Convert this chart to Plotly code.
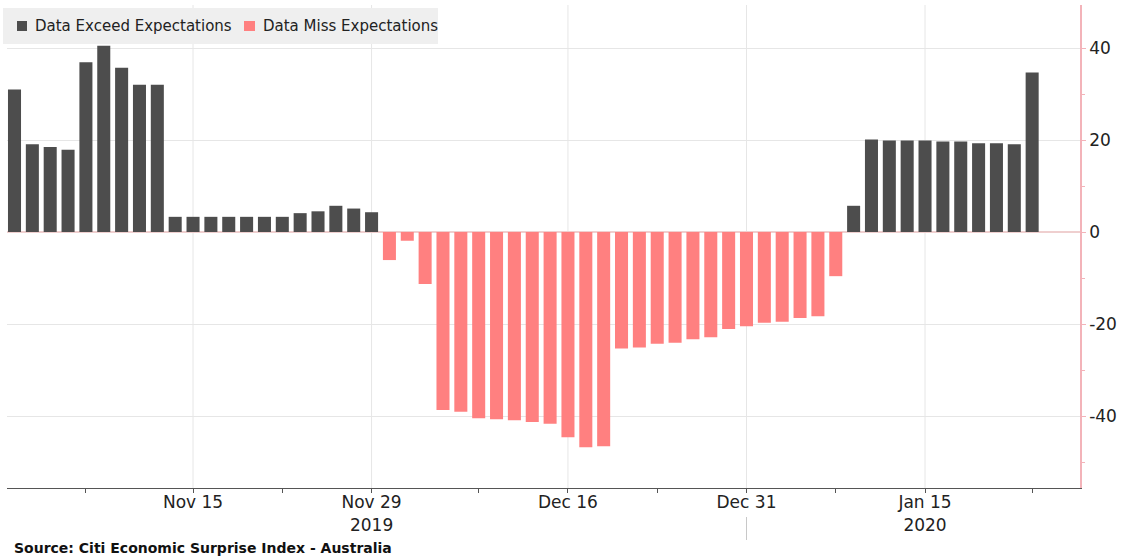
import pandas as pd
import plotly.graph_objects as go

# Citi Economic Surprise Index - Australia, daily (weekdays, Xmas / New Year dropped)
holidays = ["2019-12-25", "2020-01-01"]
dates = [d.strftime("%Y-%m-%d") for d in pd.bdate_range("2019-11-01", "2020-01-23")
         if d.strftime("%Y-%m-%d") not in holidays]

surprise = [
    31.0, 19.1, 18.5, 17.9, 36.9, 40.5, 35.7, 32.0, 32.0,
    3.3, 3.3, 3.3, 3.3, 3.3, 3.3, 3.3, 4.1, 4.5, 5.7, 5.1, 4.3,
    -6.1, -1.9, -11.3, -38.7, -39.1, -40.5, -40.7, -40.9, -41.3, -41.7, -44.6, -46.8, -46.6,
    -25.3, -25.1, -24.3, -24.1, -23.3, -22.9, -21.1, -20.5, -19.7, -19.5, -18.7, -18.3, -9.6,
    5.7, 20.1, 19.9, 19.9, 19.9, 19.7, 19.7, 19.3, 19.3, 19.1, 34.7,
]

series_names = ["Data Exceed Expectations", "Data Miss Expectations"]

# x tick marks: labelled ones carry a gridline, the rest are plain ticks
tick_dates = ["2019-11-07", "2019-11-15", "2019-11-22", "2019-11-29", "2019-12-09", "2019-12-16",
              "2019-12-23", "2019-12-31", "2020-01-08", "2020-01-15", "2020-01-23"]
tick_labels = ["", "Nov 15", "", "Nov 29<br>2019", "", "Dec 16",
               "", "Dec 31", "", "Jan 15<br>2020", ""]

y_ticks = [-40, -20, 0, 20, 40]
y_tick_labels = ["-40", "-20", "0", "20", "40"]
y_minor = [-50, -30, -10, 10, 30]

DARK = "#4d4d4d"
PINK = "#ff8080"
AXIS_PINK = "#f3b3b9"
GRID = "#e6e6e6"

# plot box in pixels (used to place the hand-made legend)
L, R, T, B = 7, 1080, 5, 488
def px_x(p):
    return (p - L) / (R - L)
def px_y(p):
    return (B - p) / (B - T)

exceed = [v if v >= 0 else None for v in surprise]
miss = [v if v < 0 else None for v in surprise]

fig = go.Figure()
fig.add_trace(go.Bar(x=dates, y=exceed, name=series_names[0],
                     marker=dict(color=DARK, line_width=0)))
fig.add_trace(go.Bar(x=dates, y=miss, name=series_names[1],
                     marker=dict(color=PINK, line_width=0)))

# vertical gridlines only at labelled dates
for d, lab in zip(tick_dates, tick_labels):
    if lab:
        fig.add_shape(type="line", xref="x", yref="paper", x0=d, x1=d, y0=0, y1=1,
                      line=dict(color=GRID, width=1), layer="below")

# little separator between the years
fig.add_shape(type="line", xref="x", yref="paper", x0="2019-12-31", x1="2019-12-31",
              y0=px_y(517), y1=px_y(540), line=dict(color="#c8c8c8", width=1))

# legend box, Bloomberg style
fig.add_shape(type="rect", xref="paper", yref="paper", x0=px_x(3), x1=px_x(438),
              y0=px_y(44), y1=px_y(8), fillcolor="#efefef", line_width=0, layer="above")
for sq0, sq1, tx, name, col in [(17, 27, 33, series_names[0], DARK),
                                (244, 255, 261, series_names[1], PINK)]:
    fig.add_shape(type="rect", xref="paper", yref="paper", x0=px_x(sq0), x1=px_x(sq1),
                  y0=px_y(31), y1=px_y(21), fillcolor=col, line_width=0, layer="above")
    fig.add_annotation(text=name, xref="paper", yref="paper", x=px_x(tx), y=px_y(26),
                       xanchor="left", yanchor="middle", showarrow=False,
                       font=dict(size=15, color="#222"))

fig.add_annotation(text="<b>Source: Citi Economic Surprise Index - Australia</b>",
                   xref="paper", yref="paper", x=px_x(12), y=px_y(548),
                   xanchor="left", yanchor="middle", showarrow=False,
                   font=dict(family="DejaVu Sans", size=14, color="#111"))

fig.update_layout(
    width=1125, height=558,
    margin=dict(l=L, r=1125 - R, t=T, b=558 - B, autoexpand=False),
    paper_bgcolor="white", plot_bgcolor="white",
    barmode="overlay", bargap=0.27,
    font=dict(family="DejaVu Sans", color="#222"),
    showlegend=False,
    xaxis=dict(type="category", range=[-0.42, 59.68], tickmode="array",
               tickvals=tick_dates, ticktext=tick_labels, showgrid=False, automargin=False,
               showline=True, linecolor="#555", linewidth=1,
               ticks="outside", ticklen=4, tickcolor="#555", ticklabelstandoff=-5,
               tickfont=dict(size=17, color="#222")),
    yaxis=dict(side="right", range=[-55.65, 49.35], tickmode="array", tickvals=y_ticks,
               ticktext=y_tick_labels, automargin=False,
               showgrid=True, gridcolor=GRID, zeroline=True, zerolinecolor="#efcfcf",
               showline=True, linecolor=AXIS_PINK, linewidth=1.5,
               ticks="outside", ticklen=4, tickcolor=AXIS_PINK,
               tickfont=dict(size=17, color="#222"),
               minor=dict(tickmode="array", tickvals=y_minor, ticks="outside",
                          ticklen=3, tickcolor=AXIS_PINK, showgrid=False)),
)

# page body has a default 8px margin; drop it so the chart sits at the corner
fig.write_html("out.html", config={"displayModeBar": False},
               post_script="document.body.style.margin='0';")
